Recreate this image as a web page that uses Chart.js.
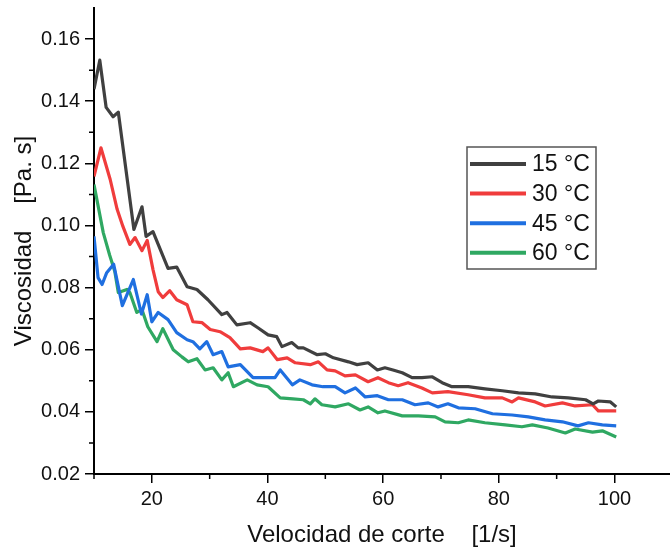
<!DOCTYPE html>
<html>
<head>
<meta charset="utf-8">
<script src="https://cdn.jsdelivr.net/npm/chart.js@4.4.0/dist/chart.umd.min.js"></script>
<style>
  body { margin: 0; background: #fff; }
  #wrap { width: 670px; height: 551px; }
</style>
</head>
<body>
<div id="wrap"><canvas id="viscChart" width="670" height="551"></canvas></div>
<script>
// values
const shear15 = [10, 11, 12.1, 13.3, 14.2, 16.9, 18.3, 19, 20.2, 22.8, 24.3, 26.1, 27.8, 29.7, 32.1, 33, 34.7, 37, 38.4, 40.1, 41.6, 42.5, 44.2, 45.3, 46.2, 48.6, 50, 51.4, 54, 55.5, 57.4, 59, 60.3, 61.7, 63.3, 65, 66.7, 68.5, 70.2, 71.9, 74.7, 77.6, 80.6, 83.4, 86.3, 89.2, 92, 95, 96.3, 97.2, 99.3, 100.3];
const visc15 = [0.1439, 0.1532, 0.138, 0.135, 0.1365, 0.0987, 0.106, 0.0965, 0.098, 0.0862, 0.0866, 0.0803, 0.0794, 0.0761, 0.0713, 0.072, 0.068, 0.0687, 0.067, 0.0648, 0.0642, 0.061, 0.0623, 0.0606, 0.0606, 0.0584, 0.0587, 0.0574, 0.0561, 0.0552, 0.0558, 0.0535, 0.0542, 0.0535, 0.0526, 0.051, 0.051, 0.0513, 0.0494, 0.0481, 0.0481, 0.0474, 0.0468, 0.0461, 0.0458, 0.0448, 0.0445, 0.0439, 0.0426, 0.0435, 0.0432, 0.0416];

const shear30 = [10, 11.2, 12.8, 14, 15, 16.2, 17.1, 18.3, 19.2, 20.2, 21.1, 21.9, 23.1, 24.3, 26.1, 27.1, 28.7, 30.1, 31.8, 33.5, 35.3, 37, 39.2, 40.1, 41.7, 43.4, 44.8, 47.4, 48.8, 50.3, 51.7, 53.4, 55.2, 57.4, 59.1, 60.9, 62.6, 64.3, 66.7, 68.5, 71.2, 74.7, 77.6, 80.6, 82.3, 83.4, 86.3, 88, 91, 93.2, 96.2, 97.2, 100.3];
const visc30 = [0.1158, 0.125, 0.1148, 0.1052, 0.0997, 0.0939, 0.0961, 0.0919, 0.0952, 0.0858, 0.0787, 0.0768, 0.079, 0.0761, 0.0745, 0.069, 0.0687, 0.0665, 0.0658, 0.0639, 0.0603, 0.0606, 0.0594, 0.0606, 0.0568, 0.0574, 0.0558, 0.0552, 0.0561, 0.0535, 0.0532, 0.0516, 0.0519, 0.0497, 0.051, 0.0494, 0.0484, 0.0494, 0.0477, 0.0461, 0.0465, 0.0455, 0.0445, 0.0445, 0.0432, 0.0445, 0.0432, 0.0419, 0.0429, 0.0419, 0.0423, 0.0403, 0.0403];

const shear45 = [10, 10.7, 11.4, 12.2, 13.4, 14.9, 16.8, 18.2, 19.2, 20, 21.1, 22.8, 24.3, 26.1, 27.1, 28.3, 29.5, 30.6, 32.1, 33.2, 35.3, 37.5, 39.9, 41.3, 42.2, 44.3, 45.6, 47.7, 49.6, 51.7, 53.4, 55.2, 56.9, 59, 60.9, 63.3, 65.5, 67.8, 69.5, 71.2, 73, 75.9, 78.9, 82.3, 85.1, 88, 91, 93.7, 95.5, 97.9, 100.3];
const visc45 = [0.0965, 0.0832, 0.081, 0.0848, 0.0875, 0.0742, 0.0826, 0.0715, 0.0777, 0.069, 0.072, 0.0697, 0.0655, 0.0632, 0.0626, 0.0603, 0.0626, 0.0584, 0.0594, 0.0545, 0.0552, 0.051, 0.051, 0.051, 0.0535, 0.0487, 0.0503, 0.0487, 0.0481, 0.0481, 0.0461, 0.0477, 0.0448, 0.0452, 0.0439, 0.0439, 0.0423, 0.0429, 0.0416, 0.0426, 0.0413, 0.041, 0.0394, 0.039, 0.0384, 0.0374, 0.0368, 0.0355, 0.0365, 0.0358, 0.0355];

const shear60 = [10, 11.6, 12.7, 13.6, 14.2, 15.7, 16.2, 17.4, 18.3, 19.3, 20.9, 21.9, 23.7, 25.2, 26.3, 27.8, 29.2, 30.6, 32.1, 33.2, 34.1, 36.5, 38.2, 40.1, 42.2, 44.4, 46.2, 47.4, 48.2, 49.4, 51.7, 54, 56, 57.4, 59.1, 60.3, 63.3, 66.1, 69, 70.7, 73, 74.7, 77.6, 81.1, 84, 85.8, 88.5, 91.5, 93.2, 96.2, 97.9, 100.3];
const visc60 = [0.1132, 0.0977, 0.0905, 0.0852, 0.0784, 0.0794, 0.0784, 0.072, 0.0729, 0.0674, 0.0626, 0.0668, 0.06, 0.0577, 0.0561, 0.0571, 0.0535, 0.0542, 0.0503, 0.0526, 0.0481, 0.0503, 0.0487, 0.0481, 0.0445, 0.0442, 0.0439, 0.0426, 0.0442, 0.0423, 0.0416, 0.0426, 0.0406, 0.0416, 0.0397, 0.0403, 0.0387, 0.0387, 0.0384, 0.0368, 0.0365, 0.0374, 0.0365, 0.0358, 0.0352, 0.0358, 0.0348, 0.0332, 0.0345, 0.0335, 0.0339, 0.0319];

const seriesLabels = ["15 °C", "30 °C", "45 °C", "60 °C"];
const xTicks = [20, 40, 60, 80, 100];
const xMinorTicks = [10, 30, 50, 70, 90];
const yTicks = [0.02, 0.04, 0.06, 0.08, 0.1, 0.12, 0.14, 0.16];
const yMinorTicks = [0.03, 0.05, 0.07, 0.09, 0.11, 0.13, 0.15];

const colors = ["#404040", "#f03c3c", "#1f6fe0", "#2fa862"];
const fontFamily = "'Liberation Sans', Arial, sans-serif";

function toPoints(xs, ys) {
  return xs.map((x, i) => ({ x: x, y: ys[i] }));
}

const allData = [
  toPoints(shear15, visc15),
  toPoints(shear30, visc30),
  toPoints(shear45, visc45),
  toPoints(shear60, visc60),
];

const datasets = allData.map((pts, i) => ({
  label: seriesLabels[i],
  data: pts,
  borderColor: colors[i],
  backgroundColor: colors[i],
  borderWidth: 3.2,
  borderJoinStyle: "round",
  pointRadius: 0,
  tension: 0,
  fill: false,
}));

// minor ticks + boxed legend inside the plot
const extras = {
  id: "extras",
  afterDraw(chart) {
    const { ctx, chartArea: a, scales } = chart;
    ctx.save();
    ctx.strokeStyle = "#000";
    ctx.lineWidth = 1.5;
    ctx.beginPath();
    xMinorTicks.forEach((v) => {
      const px = scales.x.getPixelForValue(v);
      ctx.moveTo(px, a.bottom);
      ctx.lineTo(px, a.bottom + 5);
    });
    yMinorTicks.forEach((v) => {
      const py = scales.y.getPixelForValue(v);
      ctx.moveTo(a.left, py);
      ctx.lineTo(a.left - 5, py);
    });
    ctx.stroke();

    const bx = a.left + 373;
    const by = a.top + 139;
    ctx.strokeStyle = "#555";
    ctx.lineWidth = 1.5;
    ctx.strokeRect(bx, by, 129, 122);
    ctx.font = "23px " + fontFamily;
    ctx.textBaseline = "middle";
    ctx.textAlign = "left";
    seriesLabels.forEach((lab, i) => {
      const ry = by + 17 + i * 29.6;
      ctx.strokeStyle = colors[i];
      ctx.lineWidth = 4;
      ctx.beginPath();
      ctx.moveTo(bx + 3, ry);
      ctx.lineTo(bx + 59, ry);
      ctx.stroke();
      ctx.fillStyle = "#111";
      ctx.fillText(lab, bx + 65, ry + 1);
    });
    ctx.restore();
  },
};

new Chart(document.getElementById("viscChart"), {
  type: "line",
  data: { datasets: datasets },
  options: {
    responsive: false,
    animation: false,
    layout: { padding: { top: 8, right: 0, bottom: 0, left: 0 } },
    plugins: {
      legend: { display: false },
      tooltip: { enabled: false },
    },
    scales: {
      x: {
        type: "linear",
        min: 10,
        max: 109.6,
        afterBuildTicks: (s) => {
          s.ticks = xTicks.map((v) => ({ value: v }));
        },
        afterFit: (s) => {
          s.height = 77;
          s.paddingLeft = 0;
          s.paddingRight = 0;
        },
        border: { display: true, color: "#000", width: 2 },
        grid: { drawOnChartArea: false, drawTicks: true, tickLength: 9, color: "#000", lineWidth: 1.5 },
        ticks: {
          color: "#111",
          font: { family: fontFamily, size: 20 },
          padding: 4,
          maxRotation: 0,
          callback: (v) => String(v),
        },
        title: {
          display: true,
          text: "Velocidad de corte    [1/s]",
          color: "#111",
          font: { family: fontFamily, size: 24 },
          padding: { top: 0, bottom: 1 },
        },
      },
      y: {
        type: "linear",
        min: 0.02,
        max: 0.17,
        afterBuildTicks: (s) => {
          s.ticks = yTicks.map((v) => ({ value: v }));
        },
        afterFit: (s) => {
          s.width = 94;
          s.paddingTop = 0;
          s.paddingBottom = 0;
        },
        border: { display: true, color: "#000", width: 2 },
        grid: { drawOnChartArea: false, drawTicks: true, tickLength: 9, color: "#000", lineWidth: 1.5 },
        ticks: {
          color: "#111",
          font: { family: fontFamily, size: 20 },
          padding: 5,
          callback: (v) => v.toFixed(2),
        },
        title: {
          display: true,
          text: "Viscosidad    [Pa. s]",
          color: "#111",
          font: { family: fontFamily, size: 24 },
          padding: { top: 10, bottom: 0 },
        },
      },
    },
  },
  plugins: [extras],
});
</script>
</body>
</html>
